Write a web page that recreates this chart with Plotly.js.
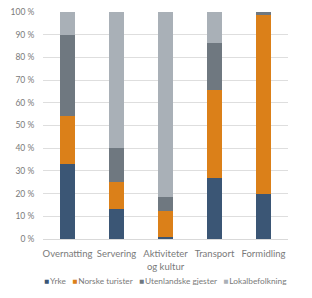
<!DOCTYPE html>
<html><head><meta charset="utf-8">
<script src="https://cdn.plot.ly/plotly-3.0.1.min.js"></script>
<style>body{margin:0;background:#fff}#c{width:312px;height:298px}</style>
</head><body><div id="c"></div>
<script>
var categories = ["Overnatting", "Servering", "Aktiviteter<br>og kultur", "Transport", "Formidling"];
var yrke = [33, 13, 1, 27, 20];
var norske = [21, 12, 11.5, 38.5, 78.5];
var utenlandske = [36, 15, 6, 21, 1.5];
var lokal = [10, 60, 81.5, 13.5, 0];
var seriesNames = ["Yrke", "Norske turister", "Utenlandske gjester", "Lokalbefolkning"];
var colors = ["#3b5675", "#db8019", "#6f7880", "#a9b0b7"];
var yTicks = [0, 10, 20, 30, 40, 50, 60, 70, 80, 90, 100];

var values = [yrke, norske, utenlandske, lokal];
var data = values.map(function (v, i) {
  return {type: "bar", x: categories, y: v, name: seriesNames[i],
    marker: {color: colors[i], line: {width: 0}}};
});
var legendText = seriesNames.map(function (n, i) {
  return "<span style='color:" + colors[i] + "'>■</span>\u2009" + n;
}).join("\u2003");
var txt = "#7a7a7a";
var font = {family: "Lato, 'Open Sans', sans-serif", size: 9, color: txt};
var layout = {
  barmode: "stack", bargap: 0.69,
  width: 312, height: 298,
  margin: {l: 43, r: 24, t: 12, b: 59},
  paper_bgcolor: "#fff", plot_bgcolor: "#fff",
  font: font,
  showlegend: false,
  xaxis: {showgrid: false, showline: true, linecolor: "#d9d9d9", linewidth: 1,
    tickfont: {size: 9.5, color: txt}, ticks: "outside", ticklen: 6, tickcolor: "rgba(0,0,0,0)",
    fixedrange: true, automargin: false},
  yaxis: {range: [0, 100], tickmode: "array", tickvals: yTicks,
    ticktext: yTicks.map(function (t) { return t + " %"; }), showgrid: true,
    gridcolor: "#dedede", gridwidth: 1, zeroline: false, showline: false,
    tickfont: {size: 8.5, color: txt}, ticks: "outside", ticklen: 6, tickcolor: "rgba(0,0,0,0)",
    automargin: false},
  annotations: [{text: legendText, xref: "paper", yref: "paper", x: 0.5, y: -0.155,
    xanchor: "center", yanchor: "top", showarrow: false,
    font: {size: 8.3, color: txt}}]
};
Plotly.newPlot("c", data, layout, {displayModeBar: false, staticPlot: true});
</script></body></html>
